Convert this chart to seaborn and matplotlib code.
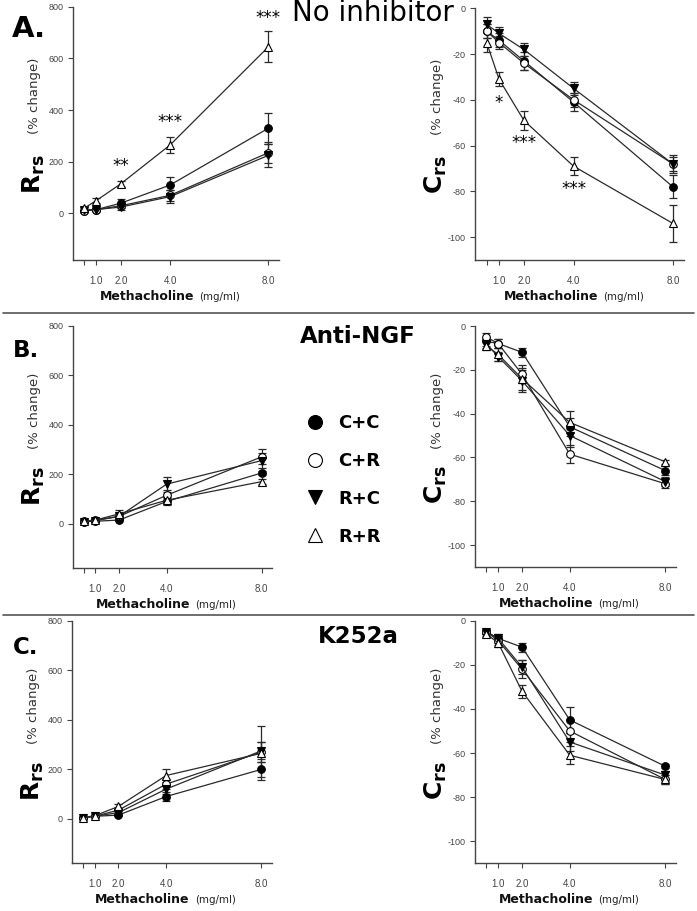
import numpy as np
import pandas as pd
import matplotlib
matplotlib.use("Agg")
import matplotlib.pyplot as plt
from matplotlib.lines import Line2D
import seaborn as sns

# ---------------- data ----------------
dose = [0.5, 1.0, 2.0, 4.0, 8.0]
xtick_pos = [0.5, 1.0, 2.0, 4.0, 8.0]
xtick_lab = ["", "1.0", "2.0", "4.0", "8.0"]
groups = ["C+C", "C+R", "R+C", "R+R"]

# Panel A - No inhibitor, Rrs
A_rrs_cc = [10, 15, 40, 110, 330]
A_rrs_cr = [10, 15, 30, 70, 235]
A_rrs_rc = [15, 15, 25, 65, 225]
A_rrs_rr = [20, 50, 115, 265, 645]
A_rrs_cc_e = [5, 5, 15, 30, 60]
A_rrs_cr_e = [5, 5, 10, 20, 40]
A_rrs_rc_e = [5, 5, 10, 25, 45]
A_rrs_rr_e = [5, 8, 12, 30, 60]
# Panel A - No inhibitor, Crs
A_crs_cc = [-10, -14, -23, -41, -78]
A_crs_cr = [-10, -15, -24, -40, -68]
A_crs_rc = [-7, -11, -18, -35, -68]
A_crs_rr = [-15, -31, -49, -69, -94]
A_crs_cc_e = [3, 3, 4, 4, 5]
A_crs_cr_e = [3, 3, 3, 3, 4]
A_crs_rc_e = [3, 3, 3, 3, 3]
A_crs_rr_e = [4, 3, 4, 4, 8]
# Panel B - Anti-NGF, Rrs
B_rrs_cc = [8, 10, 15, 90, 205]
B_rrs_cr = [10, 15, 30, 115, 270]
B_rrs_rc = [8, 12, 30, 160, 255]
B_rrs_rr = [10, 15, 40, 95, 170]
B_rrs_cc_e = [3, 3, 5, 15, 10]
B_rrs_cr_e = [3, 3, 10, 20, 30]
B_rrs_rc_e = [3, 3, 10, 30, 30]
B_rrs_rr_e = [3, 3, 15, 15, 10]
# Panel B - Anti-NGF, Crs
B_crs_cc = [-7, -8, -12, -46, -66]
B_crs_cr = [-5, -8, -22, -58.5, -72]
B_crs_rc = [-8, -14, -25, -50, -71]
B_crs_rr = [-9, -13, -24, -44, -62]
B_crs_cc_e = [2, 2, 2, 4, 2]
B_crs_cr_e = [2, 2, 4, 4, 2]
B_crs_rc_e = [2, 2, 5, 5, 2]
B_crs_rr_e = [2, 3, 5, 5, 1]
# Panel C - K252a, Rrs
C_rrs_cc = [5, 10, 15, 90, 200]
C_rrs_cr = [5, 10, 35, 140, 270]
C_rrs_rc = [5, 10, 25, 120, 275]
C_rrs_rr = [5, 12, 50, 175, 265]
C_rrs_cc_e = [3, 3, 5, 20, 30]
C_rrs_cr_e = [3, 3, 10, 20, 40]
C_rrs_rc_e = [3, 3, 10, 20, 35]
C_rrs_rr_e = [3, 3, 10, 25, 110]
# Panel C - K252a, Crs
C_crs_cc = [-5, -8, -12, -45, -66]
C_crs_cr = [-5, -9, -22, -50, -72]
C_crs_rc = [-5, -8, -21, -55, -70]
C_crs_rr = [-6, -10, -32, -61, -72]
C_crs_cc_e = [1, 1, 2, 6, 1]
C_crs_cr_e = [1, 2, 4, 5, 2]
C_crs_rc_e = [1, 2, 3, 4, 2]
C_crs_rr_e = [1, 2, 3, 4, 2]

rrs_ticks = [0, 200, 400, 600, 800]
crs_ticks = [0, -20, -40, -60, -80, -100]

# significance stars: (x, y, text)
A_rrs_stars = [(2.0, 195, "**"), (4.0, 367, "***"), (8.0, 768, "***")]
A_crs_stars = [(1.0, -40, "*"), (2.0, -57.5, "***"), (4.0, -77.6, "***")]

# ---------------- style ----------------
sns.set_style("ticks")
plt.rcParams["font.family"] = ["DejaVu Sans"]
plt.rcParams["mathtext.fontset"] = "dejavusans"
plt.rcParams["text.color"] = "black"

W, H = 697, 911
fig = plt.figure(figsize=(W / 100, H / 100), dpi=100)

def px_axes(l, t, r, b):
    return fig.add_axes([l / W, 1 - b / H, (r - l) / W, (b - t) / H])

mstyle = {
    "C+C": dict(marker="o", mfc="black"),
    "C+R": dict(marker="o", mfc="white"),
    "R+C": dict(marker="v", mfc="black"),
    "R+R": dict(marker="^", mfc="white"),
}
LC = "#2a2a2a"

def make_df(vals, errs):
    rows = []
    for g, v, e in zip(groups, vals, errs):
        for d, vv, ee in zip(dose, v, e):
            rows.append(dict(dose=d, value=vv, err=ee, group=g))
    return pd.DataFrame(rows)

def draw_panel(ax, df, ylim, yticks, xlim):
    for g in groups:
        sub = df[df.group == g]
        ax.errorbar(sub.dose, sub.value, yerr=sub.err, fmt="none",
                    ecolor=LC, elinewidth=0.9, capsize=3, capthick=0.9, zorder=2)
    for g in groups:
        sub = df[df.group == g]
        sns.lineplot(data=sub, x="dose", y="value", ax=ax, color=LC, lw=0.9,
                     marker=mstyle[g]["marker"], markerfacecolor=mstyle[g]["mfc"],
                     markeredgecolor="black", markeredgewidth=0.8, markersize=5.5,
                     zorder=3, legend=False, errorbar=None)
    ax.set_xlim(*xlim)
    ax.set_ylim(*ylim)
    ax.set_xticks(xtick_pos)
    ax.set_xticklabels(xtick_lab)
    ax.set_yticks(yticks)
    ax.set_yticklabels([str(t) for t in yticks])
    ax.set_xlabel("")
    ax.set_ylabel("")
    for s in ["top", "right"]:
        ax.spines[s].set_visible(False)
    for s in ["left", "bottom"]:
        ax.spines[s].set_color("#444444")
        ax.spines[s].set_linewidth(1.0)
    ax.tick_params(direction="out", length=3.5, width=0.8, color="#444444",
                   labelcolor="#444444", labelsize=6.5, pad=3)
    for lab in ax.get_xticklabels():
        lab.set_family("Liberation Sans")
        lab.set_fontsize(7)
    for lab in ax.get_yticklabels():
        lab.set_family("Liberation Sans")
    ax.tick_params(axis="x", pad=8)

def ylabels(ax_box, letter):
    l, t, r, b = ax_box
    xc = l - 39
    y1 = b - 0.34 * (b - t)
    y2 = b - 0.65 * (b - t)
    fig.text(xc / W, 1 - y1 / H, r"$\mathbf{%s}_{\mathbf{rs}}$" % letter,
             rotation=90, ha="center", va="center", fontsize=18, color="black")
    fig.text((xc + 1) / W, 1 - y2 / H, "(% change)", rotation=90, ha="center",
             va="center", fontsize=9.5, color="#333333")

def xlabel(ax_box):
    l, t, r, b = ax_box
    xs = l + 0.6 * (r - l)
    y = b + 40
    fig.text((xs - 2) / W, 1 - y / H, "Methacholine", ha="right", va="baseline",
             fontsize=9, fontweight="bold", color="#111111")
    fig.text((xs + 3) / W, 1 - y / H, "(mg/ml)", ha="left", va="baseline",
             fontsize=7.4, color="#222222")

boxes = {
    "A_L": (72.7, 6.7, 279, 260),
    "A_R": (475, 8.3, 684, 260),
    "B_L": (72.7, 325.7, 271.7, 568.3),
    "B_R": (475, 326, 676, 567),
    "C_L": (71.7, 621, 271.7, 863.3),
    "C_R": (475, 620.7, 676, 863.3),
}

panels = [
    ("A_L", [A_rrs_cc, A_rrs_cr, A_rrs_rc, A_rrs_rr], [A_rrs_cc_e, A_rrs_cr_e, A_rrs_rc_e, A_rrs_rr_e], "R"),
    ("A_R", [A_crs_cc, A_crs_cr, A_crs_rc, A_crs_rr], [A_crs_cc_e, A_crs_cr_e, A_crs_rc_e, A_crs_rr_e], "C"),
    ("B_L", [B_rrs_cc, B_rrs_cr, B_rrs_rc, B_rrs_rr], [B_rrs_cc_e, B_rrs_cr_e, B_rrs_rc_e, B_rrs_rr_e], "R"),
    ("B_R", [B_crs_cc, B_crs_cr, B_crs_rc, B_crs_rr], [B_crs_cc_e, B_crs_cr_e, B_crs_rc_e, B_crs_rr_e], "C"),
    ("C_L", [C_rrs_cc, C_rrs_cr, C_rrs_rc, C_rrs_rr], [C_rrs_cc_e, C_rrs_cr_e, C_rrs_rc_e, C_rrs_rr_e], "R"),
    ("C_R", [C_crs_cc, C_crs_cr, C_crs_rc, C_crs_rr], [C_crs_cc_e, C_crs_cr_e, C_crs_rc_e, C_crs_rr_e], "C"),
]

axes = {}
for key, vals, errs, letter in panels:
    ax = px_axes(*boxes[key])
    df = make_df(vals, errs)
    if letter == "R":
        draw_panel(ax, df, (-180, 800), rrs_ticks, (0.04, 8.43))
    else:
        draw_panel(ax, df, (-110, 0), crs_ticks, (0.03, 8.45))
    ylabels(boxes[key], letter)
    xlabel(boxes[key])
    axes[key] = ax

for x, y, s in A_rrs_stars:
    axes["A_L"].annotate(s, xy=(x, y), xytext=(0, -6), textcoords="offset points",
                         ha="center", va="baseline", fontsize=12, color="black",
                         annotation_clip=False)
for x, y, s in A_crs_stars:
    axes["A_R"].annotate(s, xy=(x, y), xytext=(0, -6), textcoords="offset points",
                         ha="center", va="baseline", fontsize=12, color="black",
                         annotation_clip=False)

# panel letters and titles
fig.text(12 / W, 1 - 37 / H, "A.", fontsize=21, fontweight="bold", va="baseline")
fig.text(13 / W, 1 - 357 / H, "B.", fontsize=16.5, fontweight="bold", va="baseline")
fig.text(13 / W, 1 - 654 / H, "C.", fontsize=16.5, fontweight="bold", va="baseline")
fig.text(292 / W, 1 - 21 / H, "No inhibitor", fontsize=20, va="baseline")
fig.text(300 / W, 1 - 343 / H, "Anti-NGF", fontsize=16.5, fontweight="bold", va="baseline")
fig.text(318 / W, 1 - 643 / H, "K252a", fontsize=16.5, fontweight="bold", va="baseline")

# separators
for yy in (313, 615):
    fig.add_artist(Line2D([3 / W, 694 / W], [1 - yy / H, 1 - yy / H],
                          transform=fig.transFigure, color="#555555", lw=1.2))

# legend
handles = [Line2D([], [], ls="none", marker=mstyle[g]["marker"],
                  markerfacecolor=mstyle[g]["mfc"], markeredgecolor="black",
                  markeredgewidth=0.8, markersize=10) for g in groups]
leg = fig.legend(handles, groups, loc="upper left",
                 bbox_to_anchor=(306 / W, 1 - 414 / H), frameon=False,
                 prop=dict(weight="bold", size=13), handlelength=1.0,
                 handletextpad=0.8, labelspacing=1.1, borderpad=0, borderaxespad=0)
for t in leg.get_texts():
    t.set_color("black")

fig.savefig("out.png", dpi=100)
